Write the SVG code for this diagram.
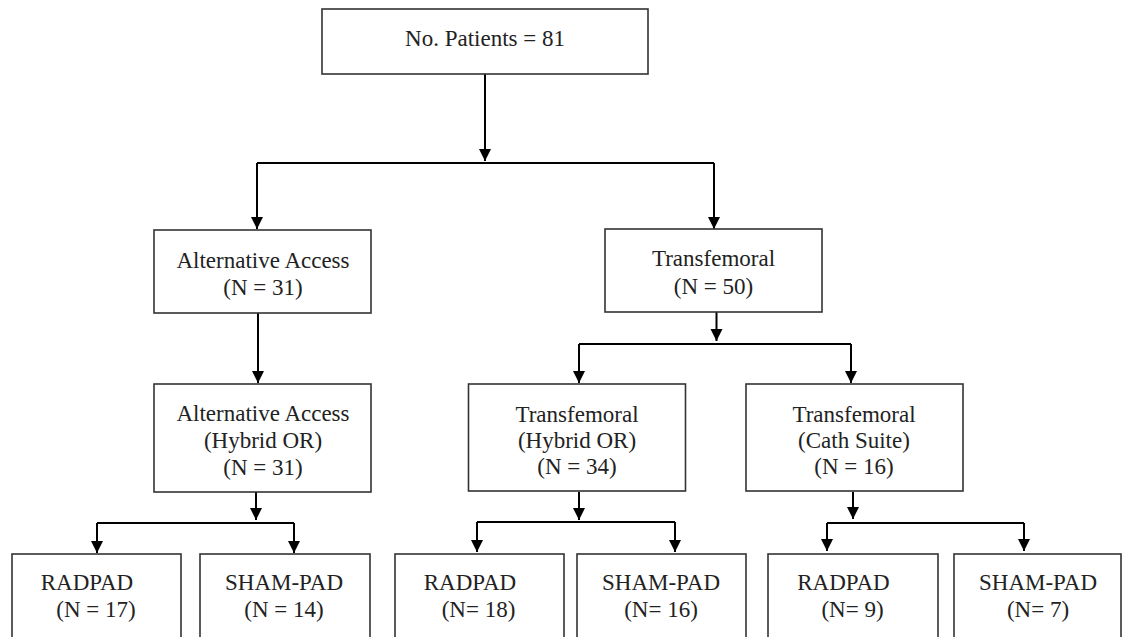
<svg xmlns="http://www.w3.org/2000/svg" width="1122" height="637" viewBox="0 0 1122 637">
<defs>
<style>
.box{fill:#fff;stroke:#333;stroke-width:1.6}
.c{fill:none;stroke:#000;stroke-width:2}
</style>
<marker id="ah" markerUnits="userSpaceOnUse" markerWidth="14" markerHeight="14" viewBox="0 0 14 14" refX="12" refY="7" orient="auto">
<path d="M0,1 L12,7 L0,13 Z" fill="#000"/>
</marker>
</defs>
<rect width="1122" height="637" fill="#fff"/>
<g id="connectors">
<path class="c" d="M485,74 V161" marker-end="url(#ah)"/>
<path class="c" d="M257,163 H714"/>
<path class="c" d="M257,163 V229" marker-end="url(#ah)"/>
<path class="c" d="M714,163 V229" marker-end="url(#ah)"/>
<path class="c" d="M258,313 V383" marker-end="url(#ah)"/>
<path class="c" d="M716.5,312 V341" marker-end="url(#ah)"/>
<path class="c" d="M579,344 H851"/>
<path class="c" d="M579,344 V383" marker-end="url(#ah)"/>
<path class="c" d="M851,344 V383" marker-end="url(#ah)"/>
<path class="c" d="M256,492 V520" marker-end="url(#ah)"/>
<path class="c" d="M97,523 H294"/>
<path class="c" d="M97,523 V553" marker-end="url(#ah)"/>
<path class="c" d="M294,523 V553" marker-end="url(#ah)"/>
<path class="c" d="M579,492 V520" marker-end="url(#ah)"/>
<path class="c" d="M477,522 H675"/>
<path class="c" d="M477,522 V552" marker-end="url(#ah)"/>
<path class="c" d="M675,522 V552" marker-end="url(#ah)"/>
<path class="c" d="M853,492 V519" marker-end="url(#ah)"/>
<path class="c" d="M827,523 H1024"/>
<path class="c" d="M827,523 V551" marker-end="url(#ah)"/>
<path class="c" d="M1024,523 V551" marker-end="url(#ah)"/>
</g>
<g id="nodes" font-family="Liberation Serif, Times New Roman, serif" font-size="23" fill="#222" text-anchor="middle">
<g id="top">
<rect class="box" x="322" y="9" width="326" height="65"/>
<text x="485" y="46">No. Patients = 81</text>
</g>
<g id="alt">
<rect class="box" x="154" y="230" width="217" height="83"/>
<text x="263" y="267.5">Alternative Access</text>
<text x="263" y="295">(N = 31)</text>
</g>
<g id="tf">
<rect class="box" x="605" y="229" width="217" height="83"/>
<text x="713.5" y="266">Transfemoral</text>
<text x="713.5" y="293.5">(N = 50)</text>
</g>
<g id="alt-hybrid">
<rect class="box" x="154" y="384" width="217" height="108"/>
<text x="263" y="421">Alternative Access</text>
<text x="263" y="448">(Hybrid OR)</text>
<text x="263" y="475">(N = 31)</text>
</g>
<g id="tf-hybrid">
<rect class="box" x="468.5" y="384" width="217" height="107"/>
<text x="577" y="421.5">Transfemoral</text>
<text x="577" y="447.5">(Hybrid OR)</text>
<text x="577" y="474">(N = 34)</text>
</g>
<g id="tf-cath">
<rect class="box" x="746" y="384" width="217" height="107"/>
<text x="854" y="421.5">Transfemoral</text>
<text x="854" y="447.5">(Cath Suite)</text>
<text x="854" y="474">(N = 16)</text>
</g>
<g id="a-radpad">
<rect class="box" x="12" y="554" width="169" height="110"/>
<text x="87" y="590">RADPAD</text>
<text x="96" y="617">(N = 17)</text>
</g>
<g id="a-sham">
<rect class="box" x="200" y="554" width="170" height="110"/>
<text x="284" y="590">SHAM-PAD</text>
<text x="284" y="617">(N = 14)</text>
</g>
<g id="h-radpad">
<rect class="box" x="395" y="554" width="169" height="110"/>
<text x="470" y="590">RADPAD</text>
<text x="478.5" y="617">(N= 18)</text>
</g>
<g id="h-sham">
<rect class="box" x="577" y="554" width="169" height="110"/>
<text x="661" y="590">SHAM-PAD</text>
<text x="661" y="617">(N= 16)</text>
</g>
<g id="c-radpad">
<rect class="box" x="768" y="554" width="170" height="110"/>
<text x="843.5" y="590">RADPAD</text>
<text x="852.5" y="617">(N= 9)</text>
</g>
<g id="c-sham">
<rect class="box" x="954" y="554" width="167" height="110"/>
<text x="1038" y="590">SHAM-PAD</text>
<text x="1038" y="617">(N= 7)</text>
</g>
</g>
</svg>
